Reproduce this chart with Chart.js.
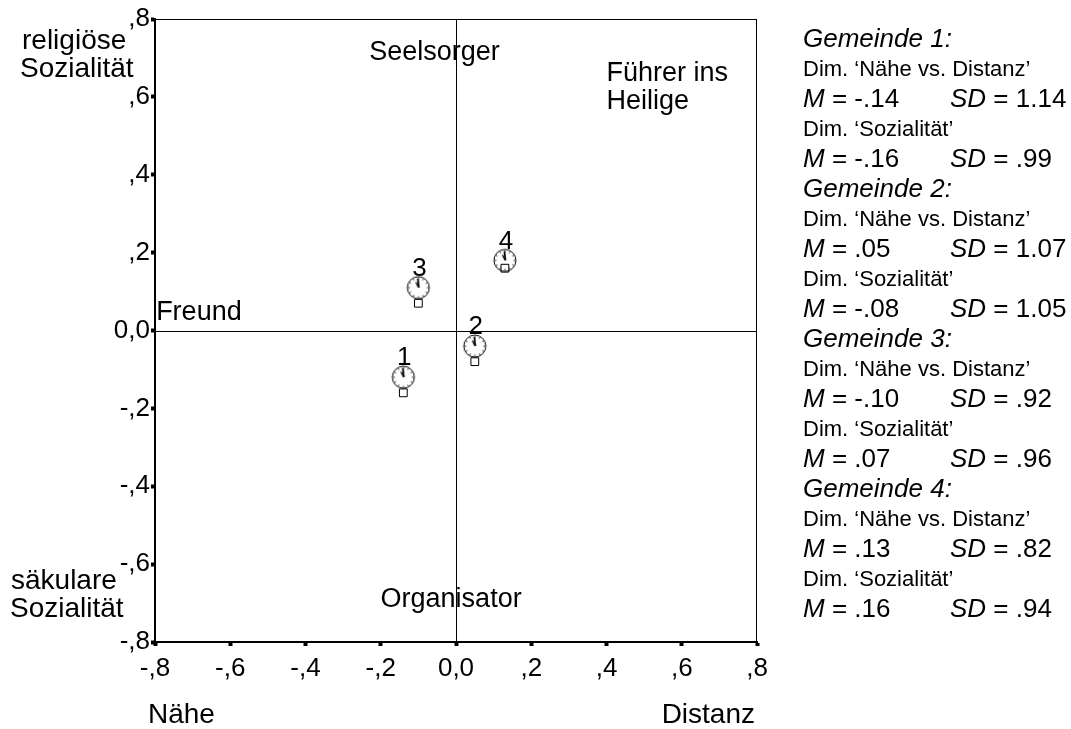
<!DOCTYPE html>
<html>
<head>
<meta charset="utf-8">
<script src="https://cdn.jsdelivr.net/npm/chart.js@4"></script>
<style>
  body { margin: 0; background: #fff; }
  #wrap { width: 1071px; height: 729px; }
</style>
</head>
<body>
<div id="wrap"><canvas id="myChart" width="1071" height="729"></canvas></div>
<script>
//DATA
//-----------------------------------------

//community numbers
let gemeinden = ['1', '2', '3', '4']
//dimension 'Naehe vs. Distanz' means and SDs
let naeheM = [-0.14, 0.05, -0.10, 0.13]
let naeheSD = [1.14, 1.07, 0.92, 0.82]
//dimension 'Sozialitaet' means and SDs
let sozialM = [-0.16, -0.08, 0.07, 0.16]
let sozialSD = [0.99, 1.05, 0.96, 0.94]
//height of the sunflower glyph for each community
let sunflowerY = [-0.12, -0.04, 0.11, 0.18]
//axis tick labels (german decimal style)
let tickLabels = ['-,8', '-,6', '-,4', '-,2', '0,0', ',2', ',4', ',6', ',8']

//role labels inside the quadrants
let roles = [
    { text: 'Seelsorger', x: -0.057, y: 0.715, align: 'center' },
    { text: 'Führer ins', x: 0.40, y: 0.66, align: 'left' },
    { text: 'Heilige', x: 0.40, y: 0.587, align: 'left' },
    { text: 'Freund', x: -0.797, y: 0.045, align: 'left' },
    { text: 'Organisator', x: -0.013, y: -0.69, align: 'center' }
]

const FONT = 'Arial, "Liberation Sans", sans-serif'

//-----------------------------------------

//formats .14 / -.14 / 1.14 like the SPSS output
function fmt(v) {
    let s = v.toFixed(2)
    return s.replace(/^(-?)0\./, '$1.')
}

//sunflower marker drawn once on a small canvas
function makeSunflower() {
    let c = document.createElement('canvas')
    c.width = 26
    c.height = 26
    let g = c.getContext('2d')
    g.strokeStyle = '#000'
    g.lineWidth = 1
    g.beginPath()
    g.arc(13, 13, 11, 0, Math.PI * 2)
    g.stroke()
    //little dial marks round the inside
    g.strokeStyle = '#333'
    for (let k = 0; k < 12; k++) {
        let a = k * Math.PI / 6
        g.beginPath()
        g.moveTo(13 + Math.cos(a) * 8.5, 13 + Math.sin(a) * 8.5)
        g.lineTo(13 + Math.cos(a) * 10.5, 13 + Math.sin(a) * 10.5)
        g.stroke()
    }
    //the petal
    g.strokeStyle = '#000'
    g.lineWidth = 1.8
    g.beginPath()
    g.moveTo(12.5, 4)
    g.lineTo(13.5, 13)
    g.stroke()
    g.lineWidth = 1.3
    g.beginPath()
    g.moveTo(10.5, 7.5)
    g.lineTo(13, 12.5)
    g.stroke()
    return c
}

let squarePoints = []
let flowerPoints = []
for (let i = 0; i < gemeinden.length; i++) {
    squarePoints.push({ x: naeheM[i], y: sozialM[i] })
    flowerPoints.push({ x: naeheM[i], y: sunflowerY[i] })
}

//frame, zero lines, text
let decorations = {
    id: 'decorations',
    beforeDatasetsDraw(chart) {
        let ctx = chart.ctx
        let a = chart.chartArea
        let xs = chart.scales.x
        let ys = chart.scales.y
        ctx.save()
        ctx.strokeStyle = '#000'
        ctx.lineWidth = 1
        ctx.strokeRect(a.left + 0.5, a.top + 0.5, a.right - a.left - 1, a.bottom - a.top)
        let x0 = Math.round(xs.getPixelForValue(0)) + 0.5
        let y0 = Math.round(ys.getPixelForValue(0)) + 0.5
        ctx.beginPath()
        ctx.moveTo(x0, a.top)
        ctx.lineTo(x0, a.bottom)
        ctx.moveTo(a.left, y0)
        ctx.lineTo(a.right, y0)
        ctx.stroke()
        ctx.restore()
    },
    afterDatasetsDraw(chart) {
        let ctx = chart.ctx
        let xs = chart.scales.x
        let ys = chart.scales.y
        ctx.save()
        ctx.fillStyle = '#000'
        ctx.textBaseline = 'middle'

        //community numbers above the sunflowers
        ctx.font = '26px ' + FONT
        ctx.textAlign = 'center'
        for (let i = 0; i < gemeinden.length; i++) {
            ctx.fillText(gemeinden[i], xs.getPixelForValue(naeheM[i]) + 1, ys.getPixelForValue(sunflowerY[i]) - 19)
        }

        //role names
        ctx.font = '27px ' + FONT
        roles.forEach(r => {
            ctx.textAlign = r.align
            ctx.fillText(r.text, xs.getPixelForValue(r.x), ys.getPixelForValue(r.y))
        })

        //axis end labels
        ctx.font = '28px ' + FONT
        ctx.textAlign = 'left'
        ctx.fillText('religiöse', 22, 41)
        ctx.fillText('Sozialität', 20, 69)
        ctx.fillText('säkulare', 11, 581)
        ctx.fillText('Sozialität', 10, 609)
        ctx.fillText('Nähe', 148, 715)
        ctx.textAlign = 'right'
        ctx.fillText('Distanz', 755, 715)
        ctx.restore()
    },
    afterDraw(chart) {
        drawPanel(chart.ctx)
    }
}

//M / SD line, letters in italics
function drawStat(ctx, m, sd, y) {
    let left = 803
    let right = 950
    ctx.font = 'italic 26px ' + FONT
    ctx.fillText('M', left, y)
    let w = ctx.measureText('M').width
    ctx.font = '26px ' + FONT
    ctx.fillText(' = ' + fmt(m), left + w, y)
    ctx.font = 'italic 26px ' + FONT
    ctx.fillText('SD', right, y)
    w = ctx.measureText('SD').width
    ctx.font = '26px ' + FONT
    ctx.fillText(' = ' + fmt(sd), right + w, y)
}

function drawPanel(ctx) {
    let y = 40
    let step = 30
    ctx.save()
    ctx.fillStyle = '#000'
    ctx.textBaseline = 'middle'
    ctx.textAlign = 'left'
    for (let i = 0; i < gemeinden.length; i++) {
        ctx.font = 'italic 26px ' + FONT
        ctx.fillText('Gemeinde ' + gemeinden[i] + ':', 803, y)
        y += step
        ctx.font = '22px ' + FONT
        ctx.fillText('Dim. \u2018Nähe vs. Distanz\u2019', 803, y)
        y += step
        drawStat(ctx, naeheM[i], naeheSD[i], y)
        y += step
        ctx.font = '22px ' + FONT
        ctx.fillText('Dim. \u2018Sozialität\u2019', 803, y)
        y += step
        drawStat(ctx, sozialM[i], sozialSD[i], y)
        y += step
    }
    ctx.restore()
}

//shared axis look
function axisOptions(pad) {
    return {
        type: 'linear',
        min: -0.8,
        max: 0.8,
        ticks: {
            stepSize: 0.2,
            color: '#000',
            padding: pad,
            font: { family: FONT, size: 26 },
            callback: function (value, index) {
                return tickLabels[index]
            }
        },
        grid: {
            drawOnChartArea: false,
            drawTicks: true,
            tickLength: 4,
            tickWidth: 4,
            tickColor: '#000'
        },
        border: { display: true, color: '#000', width: 2 }
    }
}

let xAxis = axisOptions(7)
xAxis.afterFit = function (scale) { scale.height = 87 }
let yAxis = axisOptions(1)
yAxis.afterFit = function (scale) { scale.width = 155 }

var ctx = document.getElementById('myChart').getContext('2d');
var mychart = new Chart(ctx, {
    type: 'scatter',
    data: {
        datasets: [{
            label: 'Mittelwert',
            data: squarePoints,
            pointStyle: 'rect',
            pointRadius: 5.5,
            borderColor: '#000',
            borderWidth: 1,
            backgroundColor: 'rgba(255,255,255,0)'
        }, {
            label: 'Sonnenblume',
            data: flowerPoints,
            pointStyle: makeSunflower(),
            pointRadius: 13
        }]
    },
    options: {
        responsive: false,
        animation: false,
        events: [],
        layout: { padding: { top: 19, right: 314, left: 0, bottom: 0 } },
        plugins: {
            legend: { display: false },
            tooltip: { enabled: false }
        },
        scales: { x: xAxis, y: yAxis }
    },
    plugins: [decorations]
});
</script>
</body>
</html>
